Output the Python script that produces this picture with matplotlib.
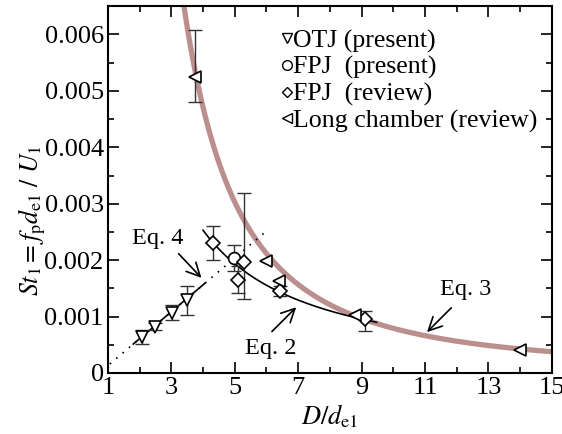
import numpy as np
import matplotlib
matplotlib.use("Agg")
import matplotlib.pyplot as plt
from matplotlib.lines import Line2D

plt.rcParams['font.family'] = ['Liberation Serif', 'DejaVu Serif']
plt.rcParams['mathtext.fontset'] = 'stix'
plt.rcParams['font.size'] = 17

# ---- data ----
otj_x = [2.09, 2.48, 3.01, 3.48]
otj_y = [0.00064, 0.00082, 0.00107, 0.00129]
otj_err = [0.00012, 0.00006, 0.00013, 0.00026]

fpj_present_x = [4.98]
fpj_present_y = [0.00204]
fpj_present_err = [0.00023]

fpj_review_x = [4.30, 5.09, 5.30, 6.43, 9.10]
fpj_review_y = [0.00231, 0.00165, 0.00196, 0.00146, 0.00095]
fpj_review_lo = [0.00031, 0.00024, 0.00065, 0.00009, 0.00020]
fpj_review_hi = [0.00029, 0.00024, 0.00123, 0.00009, 0.00015]

long_x = [3.74, 5.97, 6.39, 8.80, 14.0]
long_y = [0.00524, 0.00198, 0.00163, 0.00102, 0.00041]
long_lo = [0.00044, 0.0, 0.0, 0.0, 0.0]
long_hi = [0.00084, 0.0, 0.0, 0.0, 0.0]

# model curves (Eq. 2, Eq. 3, Eq. 4)
eq3_a, eq3_b = 0.0746, 0.000045
eq2_y0, eq2_x0, eq2_n = 0.00253, 4.0, 1.2
eq4_slope, eq4_icpt = 0.000477, -0.000346

xticks = [1, 3, 5, 7, 9, 11, 13, 15]
yticks = [0, 0.001, 0.002, 0.003, 0.004, 0.005, 0.006]
ytick_labels = ['0', '0.001', '0.002', '0.003', '0.004', '0.005', '0.006']

legend_labels = ['OTJ (present)', 'FPJ  (present)', 'FPJ  (review)', 'Long chamber (review)']

# ---- figure ----
fig = plt.figure(figsize=(5.62, 4.34), dpi=100)
ax = fig.add_axes([0.192, 0.1406, 0.79, 0.845])

# Eq. 3 (thick pink)
x3 = np.linspace(3.2, 15, 300)
ax.plot(x3, eq3_a / x3**2 + eq3_b, color='#bc8f8f', lw=3.8, zorder=1, solid_capstyle='butt')

# Eq. 4 dotted & solid
x4d = np.linspace(1.06, 6.0, 50)
ax.plot(x4d, eq4_slope * x4d + eq4_icpt, ls=(0, (1, 4)), color='black', lw=1.2, zorder=2)
x4s = np.linspace(1.8, 4.06, 50)
ax.plot(x4s, eq4_slope * x4s + eq4_icpt, color='black', lw=1.2, zorder=2)

# Eq. 2
x2 = np.linspace(4.0, 9.47, 100)
ax.plot(x2, eq2_y0 * (x2 / eq2_x0) ** (-eq2_n), color='black', lw=1.2, zorder=2)

ms = 8.5
mew = 1.2
ekw = dict(ecolor='#333333', elinewidth=1.0, capsize=5, capthick=1.0, ls='none', zorder=3)
ax.errorbar(otj_x, otj_y, yerr=otj_err, **ekw)
ax.errorbar(fpj_present_x, fpj_present_y, yerr=fpj_present_err, **ekw)
ax.errorbar(fpj_review_x, fpj_review_y, yerr=[fpj_review_lo, fpj_review_hi], **ekw)
ax.errorbar(long_x[:1], long_y[:1], yerr=[long_lo[:1], long_hi[:1]], **ekw)

mk = dict(ls='none', mfc='white', mec='black', mew=mew, ms=ms, zorder=4)
ax.plot(otj_x, otj_y, marker='v', **mk)
ax.plot(fpj_present_x, fpj_present_y, marker='o', **mk)
ax.plot(fpj_review_x, fpj_review_y, marker='D', **dict(mk, ms=ms * 0.8))
ax.plot(long_x, long_y, marker='<', **mk)

# annotations
arw = dict(arrowstyle='->', color='black', lw=1.2, mutation_scale=24)
ax.annotate('', xy=(4.01, 0.00165), xytext=(3.17, 0.00215), arrowprops=arw)
ax.text(2.57, 0.00238, 'Eq. 4', ha='center', va='center', fontsize=17.5)
ax.annotate('', xy=(7.0, 0.00120), xytext=(6.11, 0.00070), arrowprops=arw)
ax.text(6.14, 0.00044, 'Eq. 2', ha='center', va='center', fontsize=17.5)
ax.annotate('', xy=(11.0, 0.00069), xytext=(11.89, 0.00119), arrowprops=arw)
ax.text(12.29, 0.00148, 'Eq. 3', ha='center', va='center', fontsize=17.5)

# legend
handles = [Line2D([], [], marker=m, ls='none', mfc='white', mec='black', mew=1.0, ms=s)
           for m, s in zip(['v', 'o', 'D', '<'], [7, 7, 5.6, 7])]
ax.legend(handles, legend_labels, loc='upper left', bbox_to_anchor=(0.391, 0.937),
          frameon=False, handlelength=0.4, handletextpad=0.03, labelspacing=0.12,
          borderaxespad=0.0, borderpad=0.0, fontsize=18.6)

ax.set_xlim(1, 15)
ax.set_ylim(0, 0.0065)
ax.set_xticks(xticks)
ax.set_xticks(np.arange(1, 16, 1), minor=True)
ax.set_yticks(yticks)
ax.set_yticklabels(ytick_labels)
ax.set_yticks(np.arange(0, 0.0065, 0.0005), minor=True)
ax.tick_params(which='both', direction='in', top=True, right=True, labelsize=19, pad=3)
ax.tick_params(which='major', length=8, width=1.2)
ax.tick_params(which='minor', length=4.5, width=1.2)
for s in ax.spines.values():
    s.set_linewidth(1.5)

ax.set_xlabel(r'$D/d_{\mathrm{e1}}$', fontsize=19, labelpad=2)
ax.set_ylabel(r'$St_1 = f_{\mathrm{p}}d_{\mathrm{e1}}\ /\ U_1$', fontsize=18.5)
ax.yaxis.set_label_coords(-0.136, 0.415)

fig.savefig('out.png', dpi=100)
